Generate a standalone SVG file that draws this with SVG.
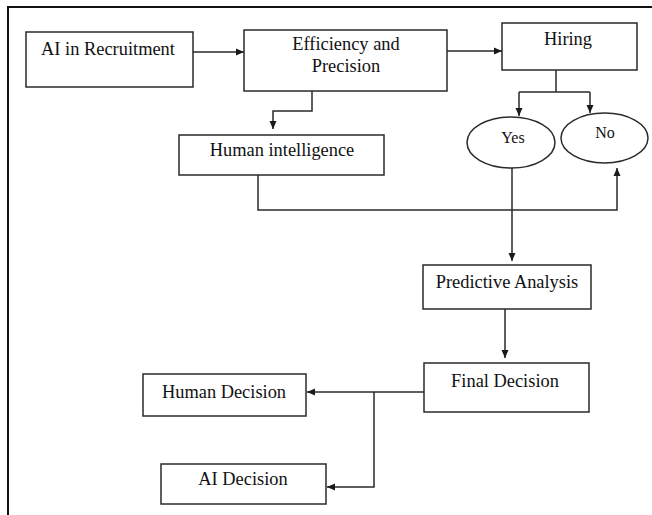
<svg xmlns="http://www.w3.org/2000/svg" width="652" height="515" viewBox="0 0 652 515">
<style>
.box{fill:#fff;stroke:#2a2a2a;stroke-width:1.5}
.t{font-family:"Liberation Serif","Times New Roman",serif;font-size:18.4px;fill:#111;text-anchor:middle}
.s{font-size:16px}
.c{fill:none;stroke:#2a2a2a;stroke-width:1.5}
</style>
<defs>
<marker id="ah" markerUnits="userSpaceOnUse" markerWidth="8" markerHeight="8" refX="8" refY="4" orient="auto"><path d="M0,0.5 L8,4 L0,7.5 z" fill="#1a1a1a"/></marker>
</defs>
<rect width="652" height="515" fill="#fff"/>
<path d="M8,515 V7 H652" fill="none" stroke="#111" stroke-width="2"/>
<g id="connectors">
<path class="c" d="M193,52 H244" marker-end="url(#ah)"/>
<path class="c" d="M447,51 H502" marker-end="url(#ah)"/>
<path class="c" d="M312,91 V111 H273 V129" marker-end="url(#ah)"/>
<path class="c" d="M556,70 V92"/>
<path class="c" d="M519,92 H590"/>
<path class="c" d="M519,92 V116" marker-end="url(#ah)"/>
<path class="c" d="M590,92 V113" marker-end="url(#ah)"/>
<path class="c" d="M512,168 V261" marker-end="url(#ah)"/>
<path class="c" d="M258,175 V210 H617 V168" marker-end="url(#ah)"/>
<path class="c" d="M505,309 V358" marker-end="url(#ah)"/>
<path class="c" d="M424,392 H307" marker-end="url(#ah)"/>
<path class="c" d="M374,392 V487 H327" marker-end="url(#ah)"/>
</g>
<g id="ai-recruitment"><rect class="box" x="26" y="32" width="167" height="55"/><text class="t" x="108" y="55">AI in Recruitment</text></g>
<g id="efficiency"><rect class="box" x="244" y="30" width="203" height="61"/><text class="t" x="346" y="50">Efficiency and</text><text class="t" x="346" y="72">Precision</text></g>
<g id="hiring"><rect class="box" x="502" y="23" width="135" height="47"/><text class="t" x="568" y="45">Hiring</text></g>
<g id="human-intelligence"><rect class="box" x="179" y="135" width="205" height="40"/><text class="t" x="282" y="156">Human intelligence</text></g>
<g id="yes"><ellipse class="box" cx="511" cy="142.5" rx="44" ry="25.5"/><text class="t s" x="513" y="143">Yes</text></g>
<g id="no"><ellipse class="box" cx="604.5" cy="138" rx="43.5" ry="25"/><text class="t s" x="605" y="138">No</text></g>
<g id="predictive"><rect class="box" x="423" y="265" width="168" height="44"/><text class="t" x="507" y="288">Predictive Analysis</text></g>
<g id="final"><rect class="box" x="424" y="363" width="165" height="49"/><text class="t" x="505" y="387">Final Decision</text></g>
<g id="human-decision"><rect class="box" x="143" y="374" width="163" height="42"/><text class="t" x="224" y="398">Human Decision</text></g>
<g id="ai-decision"><rect class="box" x="161" y="464" width="165" height="40"/><text class="t" x="243" y="485">AI Decision</text></g>
</svg>
